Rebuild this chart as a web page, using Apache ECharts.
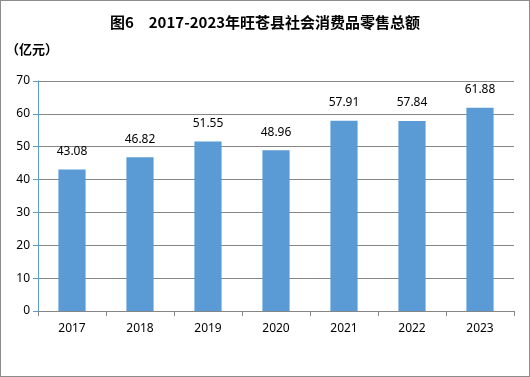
<!DOCTYPE html>
<html>
<head>
<meta charset="utf-8">
<script src="https://cdn.jsdelivr.net/npm/echarts@6/dist/echarts.min.js"></script>
<style>
html,body{margin:0;padding:0;background:#fff;}
#main{width:530px;height:377px;box-sizing:border-box;border:1px solid #8c8c8c;}
</style>
</head>
<body>
<div id="main"></div>
<script>
// 年份与零售总额(亿元)
var years = ['2017','2018','2019','2020','2021','2022','2023'];
var retailTotal = [43.08, 46.82, 51.55, 48.96, 57.91, 57.84, 61.88];
var yTicks = [0, 10, 20, 30, 40, 50, 60, 70];

var myChart = echarts.init(document.getElementById('main'));
var option = {
    animation: false,
    title: {
        text: '图6　2017-2023年旺苍县社会消费品零售总额',
        left: 'center',
        top: 9,
        textStyle: {
            fontFamily: 'Noto Sans CJK SC',
            fontSize: 15,
            fontWeight: 'bold',
            color: '#000'
        }
    },
    graphic: [{
        type: 'text',
        left: 5,
        top: 42,
        style: {
            text: '（亿元）',
            font: 'bold 13px "Noto Sans CJK SC"',
            fill: '#000'
        }
    }],
    grid: {
        left: 37,
        right: 15,
        top: 80,
        bottom: 65
    },
    xAxis: {
        type: 'category',
        data: years,
        axisLine: { lineStyle: { color: '#868686', width: 1 } },
        axisTick: { show: true, length: 5, lineStyle: { color: '#868686' } },
        axisLabel: {
            color: '#000',
            fontSize: 12,
            margin: 12,
            fontFamily: 'Noto Sans'
        }
    },
    yAxis: {
        type: 'value',
        min: yTicks[0],
        max: yTicks[yTicks.length - 1],
        interval: 10,
        axisLine: { show: true, lineStyle: { color: '#5b9bd5' } },
        axisTick: { show: true, length: 5, lineStyle: { color: '#5b9bd5' } },
        axisLabel: {
            color: '#000',
            fontSize: 12,
            margin: 8,
            fontFamily: 'Noto Sans'
        },
        splitLine: { lineStyle: { color: '#868686', width: 1 } }
    },
    series: [{
        name: '社会消费品零售总额',
        type: 'bar',
        barWidth: '40%',
        data: retailTotal,
        itemStyle: { color: '#5b9bd5' },
        label: {
            show: true,
            position: 'top',
            distance: 12,
            color: '#000',
            fontSize: 12,
            fontFamily: 'Noto Sans',
            formatter: function (p) { return p.value.toFixed(2); }
        }
    }]
};
myChart.setOption(option);
</script>
</body>
</html>
